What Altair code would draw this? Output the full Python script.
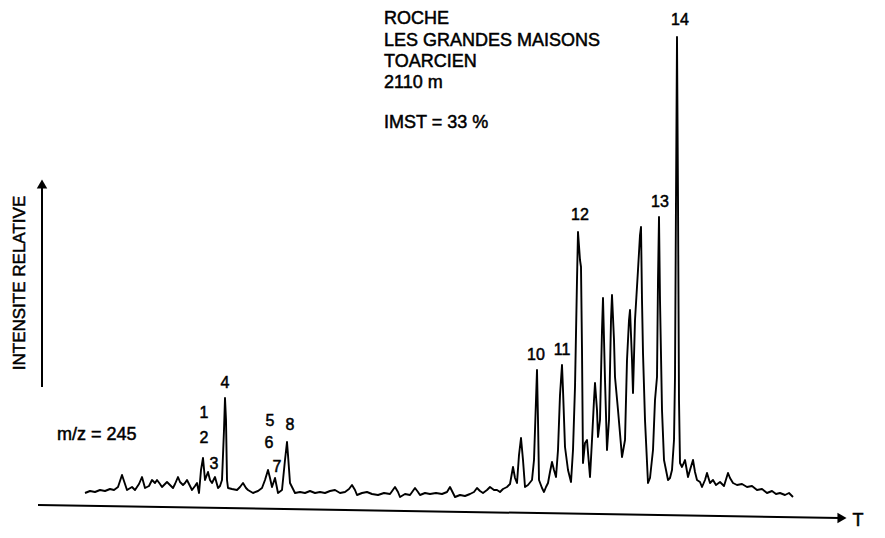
import altair as alt
import pandas as pd

# Trace: retention position T and relative intensity I
trace_t = [85, 90, 95, 100, 105, 110, 114, 118, 122, 125, 127, 132, 135, 139, 142, 145, 149, 152, 155, 157,
           160, 162, 165, 167, 170, 173, 175, 178, 180, 183, 185, 187, 190, 192, 195, 197, 199, 201, 203, 205,
           208, 210, 212, 215, 218, 220, 222, 224, 225, 226, 227, 228, 232, 237, 240, 243, 246, 248, 253, 258,
           262, 265, 268, 270, 272, 275, 278, 282, 285, 287, 288, 290, 295, 300, 305, 310, 315, 320, 325, 330,
           335, 340, 345, 349, 352, 355, 357, 362, 367, 372, 378, 384, 390, 395, 398, 400, 405, 410, 415, 418,
           420, 425, 430, 436, 442, 447, 450, 453, 455, 460, 465, 470, 474, 477, 480, 483, 487, 490, 494, 497,
           500, 503, 507, 510, 513, 515, 517, 519, 521, 523, 525, 528, 532, 534, 536, 537, 538, 539, 542, 544,
           546, 548, 550, 552, 554, 556, 558, 560, 562, 563, 565, 568, 571, 573, 575, 577, 578, 580, 581, 582,
           583, 585, 587, 590, 592, 594, 595, 597, 598, 600, 602, 603, 605, 607, 609, 611, 612, 614, 615, 618,
           622, 625, 627, 629, 630, 632, 633, 635, 638, 640, 641, 642, 643, 645, 648, 650, 653, 655, 657, 658,
           659, 660, 662, 664, 666, 668, 670, 672, 674, 675, 676, 677, 678, 679, 680, 682, 685, 688, 690, 693,
           695, 697, 700, 702, 705, 707, 710, 713, 716, 720, 724, 728, 730, 733, 737, 742, 747, 752, 757, 762,
           767, 772, 776, 780, 785, 789, 793]
trace_i = [2, 4, 3, 5, 4, 6, 5, 8, 20, 11, 5, 8, 5, 11, 18, 7, 9, 15, 12, 15,
           11, 8, 11, 13, 10, 7, 11, 18, 13, 10, 12, 15, 9, 5, 9, 12, 2, 25, 37, 15,
           23, 15, 12, 18, 7, 9, 15, 65, 97, 75, 15, 7, 6, 5, 8, 12, 7, 5, 2, 4,
           7, 15, 25, 17, 8, 17, 2, 5, 35, 53, 40, 12, 2, 3, 2, 4, 2, 3, 2, 4,
           5, 2, 3, 6, 10, 5, 0, 2, 3, 1, 0, 2, 1, 8, 3, -2, 1, 0, 7, 3,
           0, 2, 1, 2, 1, 3, 8, 2, -2, 0, -1, 1, 3, 7, 4, 2, 5, 8, 5, 5,
           3, 6, 8, 11, 28, 17, 12, 40, 57, 35, 8, 10, 15, 35, 95, 125, 75, 15, 7, 3,
           8, 12, 23, 33, 25, 18, 45, 100, 130, 105, 48, 25, 13, 45, 108, 215, 263, 235, 228, 145,
           32, 52, 55, 18, 55, 95, 112, 85, 58, 75, 165, 197, 115, 45, 75, 175, 200, 155, 118, 85,
           38, 55, 135, 175, 185, 135, 102, 175, 225, 260, 268, 195, 142, 75, 12, 17, 45, 95, 118, 215,
           278, 195, 85, 35, 25, 15, 17, 25, 55, 118, 295, 458, 295, 95, 32, 28, 35, 18, 25, 35,
           23, 15, 13, 8, 15, 22, 12, 15, 10, 13, 9, 22, 17, 12, 10, 11, 8, 9, 5, 6,
           2, 4, 1, 2, 0, 2, -2]

# Peak numbers
peak_labels = ["1", "2", "3", "4", "5", "6", "7", "8", "10", "11", "12", "13", "14"]
peak_label_t = [204, 204, 214, 225, 270, 269, 277, 290, 536, 562, 580, 660, 680]
peak_label_i = [82, 57, 31, 112, 74, 52, 28, 70, 140, 145, 280, 293, 475]

# Header block
header_lines = ["ROCHE", "LES GRANDES MAISONS", "TOARCIEN", "2110 m", "IMST = 33 %"]
header_i = [476, 454, 433, 412, 372]
header_t = 384

mz_text = "m/z = 245"
y_title = "INTENSITE RELATIVE"
x_title = "T"

FONT = "Liberation Sans"
W, H = 869, 522
xs = alt.Scale(domain=[8, 8 + W], nice=False, zero=False)
ys = alt.Scale(domain=[-35, -35 + H], nice=False, zero=False)
TXT = dict(font=FONT, color="black", stroke="black", strokeWidth=0.5, baseline="middle")


def X():
    return alt.X("T:Q", scale=xs, axis=None)


def Y():
    return alt.Y("I:Q", scale=ys, axis=None)


trace_df = pd.DataFrame({"T": trace_t, "I": trace_i, "o": range(len(trace_t))})
trace = alt.Chart(trace_df).mark_line(color="black", strokeWidth=1.9, strokeJoin="round").encode(
    x=X(), y=Y(), order="o:Q"
)

peaks_df = pd.DataFrame({"T": peak_label_t, "I": peak_label_i, "lab": peak_labels})
peaks = alt.Chart(peaks_df).mark_text(fontSize=16, align="center", **TXT).encode(
    x=X(), y=Y(), text="lab:N"
)

head_df = pd.DataFrame({"T": [header_t] * len(header_lines), "I": header_i, "lab": header_lines})
head = alt.Chart(head_df).mark_text(fontSize=18, align="left", **TXT).encode(
    x=X(), y=Y(), text="lab:N"
)

mz_df = pd.DataFrame({"T": [57], "I": [60], "lab": [mz_text]})
mz = alt.Chart(mz_df).mark_text(fontSize=18, align="left", **TXT).encode(
    x=X(), y=Y(), text="lab:N"
)

# Axes drawn as arrows
yaxis_df = pd.DataFrame({"T": [42], "I": [108], "I2": [312]})
yaxis = alt.Chart(yaxis_df).mark_rule(color="black", strokeWidth=2).encode(
    x=X(), y=Y(), y2="I2:Q"
)
xaxis_df = pd.DataFrame({"T": [38], "T2": [840], "I": [-10], "I2": [-23]})
xaxis = alt.Chart(xaxis_df).mark_rule(color="black", strokeWidth=2).encode(
    x=X(), x2="T2:Q", y=Y(), y2="I2:Q"
)
yhead_df = pd.DataFrame({"T": [42], "I": [311]})
yhead = alt.Chart(yhead_df).mark_point(shape="triangle-up", filled=True, color="black", size=110, opacity=1).encode(
    x=X(), y=Y()
)
xhead_df = pd.DataFrame({"T": [842], "I": [-23]})
xhead = alt.Chart(xhead_df).mark_point(shape="triangle-right", filled=True, color="black", size=110, opacity=1).encode(
    x=X(), y=Y()
)

ytitle_df = pd.DataFrame({"T": [20], "I": [212], "lab": [y_title]})
ytitle = alt.Chart(ytitle_df).mark_text(fontSize=17, angle=270, align="center", **TXT).encode(
    x=X(), y=Y(), text="lab:N"
)
xtitle_df = pd.DataFrame({"T": [858], "I": [-26], "lab": [x_title]})
xtitle = alt.Chart(xtitle_df).mark_text(fontSize=18, align="center", **TXT).encode(
    x=X(), y=Y(), text="lab:N"
)

chart = alt.layer(trace, peaks, head, mz, yaxis, xaxis, yhead, xhead, ytitle, xtitle).properties(
    width=W, height=H, padding=0, autosize=alt.AutoSizeParams(type="none"), background="white"
).configure_view(stroke=None)

chart.save("out.html", embed_options={"renderer": "svg", "actions": False})
